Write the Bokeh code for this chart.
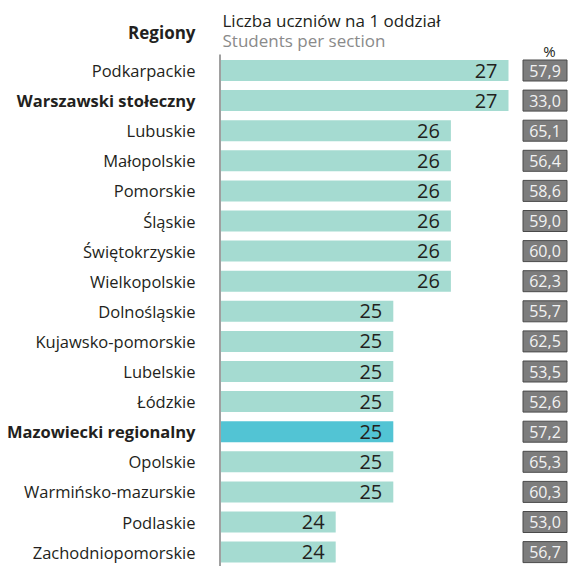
from bokeh.plotting import figure
from bokeh.models import Range1d, ColumnDataSource
from bokeh.core.properties import value
from bokeh.embed import file_html
from bokeh.resources import INLINE

regions = ["Podkarpackie", "Warszawski stołeczny", "Lubuskie", "Małopolskie", "Pomorskie",
           "Śląskie", "Świętokrzyskie", "Wielkopolskie", "Dolnośląskie", "Kujawsko-pomorskie",
           "Lubelskie", "Łódzkie", "Mazowiecki regionalny", "Opolskie", "Warmińsko-mazurskie",
           "Podlaskie", "Zachodniopomorskie"]
students = [27, 27, 26, 26, 26, 26, 26, 26, 25, 25, 25, 25, 25, 25, 25, 24, 24]
percent = ["57,9", "33,0", "65,1", "56,4", "58,6", "59,0", "60,0", "62,3", "55,7", "62,5",
           "53,5", "52,6", "57,2", "65,3", "60,3", "53,0", "56,7"]
bold_regions = ["Warszawski stołeczny", "Mazowiecki regionalny"]
highlight = ["Mazowiecki regionalny"]
title_pl = "Liczba uczniów na 1 oddział"
title_en = "Students per section"
header_left = "Regiony"
header_right = "%"

W, H = 569, 566
BASE = 22
PXU = 57.6          # pixels per student
X0 = 220            # pixel of bar base
PITCH = 30.1
Y0 = 70.0

def px2x(px):
    return BASE + (px - X0) / PXU

def py2y(py):
    return (py - Y0) / PITCH

p = figure(width=W, height=H, output_backend="svg", toolbar_location=None,
           x_range=Range1d(px2x(0), px2x(W)), y_range=Range1d(py2y(H), py2y(0)),
           min_border=0)
p.axis.visible = False
p.grid.visible = False
p.outline_line_color = None
p.background_fill_color = "white"
p.border_fill_color = "white"

idx = list(range(len(regions)))
colors = ["#52c4d4" if r in highlight else "#a5dbd1" for r in regions]
src = ColumnDataSource(dict(y=idx, v=students, left=[BASE] * len(idx), c=colors,
                            lab=[str(s) for s in students], pct=percent,
                            reg=regions,
                            style=["bold" if r in bold_regions else "normal" for r in regions]))

font = value("Open Sans")
dark = "#231f20"

p.hbar(y="y", left="left", right="v", height=21 / PITCH, fill_color="c", line_color=None, source=src)

# axis line
p.segment(x0=px2x(219.5), x1=px2x(219.5), y0=py2y(54), y1=py2y(H), line_color="#a0a0a0", line_width=2)

# values in bars
p.text(x="v", y="y", text="lab", source=src, text_align="right", text_baseline="middle",
       x_offset=-11, y_offset=0, text_font=font, text_font_size="20px", text_color=dark)

# region labels
p.text(x=px2x(195), y="y", text="reg", source=src, text_align="right", text_baseline="middle",
       text_font=font, text_font_size="16.5px", text_font_style="style", text_color=dark)

# percent boxes
box_cx = px2x(544.5)
p.rect(x=box_cx, y="y", width=44, width_units="screen", height=21, height_units="screen",
       source=src, fill_color="#7d7d7d", line_color="#4a4a4a", line_width=1)
p.text(x=box_cx, y="y", text="pct", source=src, text_align="center", text_baseline="middle",
       text_font=font, text_font_size="16px", text_color="#f2f2f2")

# headers
p.text(x=[px2x(195)], y=[py2y(32)], text=[header_left], text_align="right", text_baseline="middle",
       text_font=font, text_font_size="17px", text_font_style="bold", text_color=dark)
p.text(x=[px2x(222)], y=[py2y(20)], text=[title_pl], text_align="left", text_baseline="middle",
       text_font=font, text_font_size="17px", text_color=dark)
p.text(x=[px2x(222)], y=[py2y(40)], text=[title_en], text_align="left", text_baseline="middle",
       text_font=font, text_font_size="17px", text_color="#8a8a8a")
p.text(x=[px2x(549)], y=[py2y(50)], text=[header_right], text_align="center", text_baseline="middle",
       text_font=font, text_font_size="15px", text_color=dark)

open("out.html", "w").write(file_html(p, INLINE))
